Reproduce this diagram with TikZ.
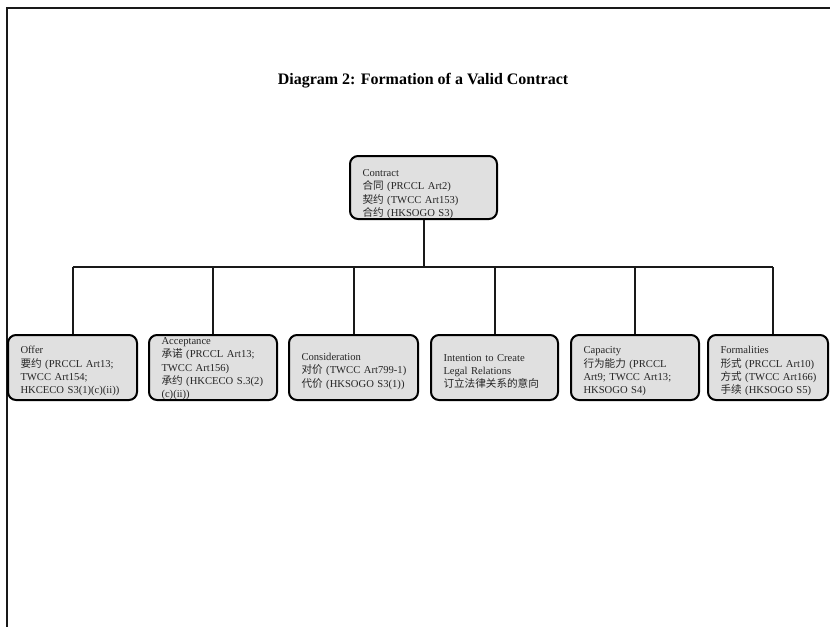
\documentclass[tikz,border=0pt]{standalone}
\usepackage{fontspec}
\setmainfont{Liberation Serif}
\newfontfamily\cjk{Noto Sans CJK SC}
\newcommand\zh[1]{{\cjk #1}}
\definecolor{boxgray}{RGB}{224,224,224}
\begin{document}
\begin{tikzpicture}[x=1pt,y=-1pt,
  box/.style={draw=black, line width=2pt, rounded corners=8pt, fill=boxgray,
    align=left, inner xsep=12.5pt, inner ysep=0pt, minimum height=65pt,
    text height=15pt,
    font=\fontsize{10.6}{13.3}\selectfont, text=black!85},
  conn/.style={line width=2pt, draw=black!90},
  frameline/.style={line width=1.5pt, draw=black!90},
  title/.style={font=\fontsize{16}{19}\bfseries\selectfont, anchor=base}]
\useasboundingbox (0,0) rectangle (830,627);
\draw[frameline] (830,8) -- (7,8) -- (7,627);
\node[title] (title) at (423,84) {Diagram 2: Formation of a Valid Contract};

\node[box, minimum width=147pt, minimum height=63pt, text width=122pt, text height=20pt] (contract) at (423.5,187.5)
  {Contract\\\zh{合同}~(PRCCL~Art2)\\\zh{契约}~(TWCC~Art153)\\\zh{合约}~(HKSOGO~S3)};

\node[box, minimum width=129pt, text width=104pt] (offer) at (72.5,367.5)
  {Offer\\\zh{要约}~(PRCCL~Art13;\\TWCC~Art154;\\HKCECO~S3(1)(c)(ii))};
\node[box, minimum width=128pt, text width=103pt, text height=7pt, text depth=53.2pt] (accept) at (213,367.5)
  {Acceptance\\\zh{承诺}~(PRCCL~Art13;\\TWCC~Art156)\\\zh{承约}~(HKCECO~S.3(2)\\(c)(ii))};
\node[box, minimum width=129pt, text width=104pt] (consid) at (353.5,367.5)
  {Consideration\\\mbox{\zh{对价}~(TWCC~Art799-1)}\\\zh{代价}~(HKSOGO~S3(1))};
\node[box, minimum width=127pt, text width=102pt] (intent) at (494.5,367.5)
  {Intention~to~Create\\Legal~Relations\\\zh{订立法律关系的意向}};
\node[box, minimum width=128pt, text width=103pt] (capac) at (635,367.5)
  {Capacity\\\zh{行为能力}~(PRCCL\\Art9;~TWCC~Art13;\\HKSOGO~S4)};
\node[box, minimum width=120pt, text width=95pt] (form) at (768,367.5)
  {Formalities\\\zh{形式}~(PRCCL~Art10)\\\zh{方式}~(TWCC~Art166)\\\zh{手续}~(HKSOGO~S5)};

\coordinate (bus) at (423.5,267);
\coordinate (formdrop) at ([xshift=5pt]form.north);
\draw[conn] (contract.south) -- (contract.south |- bus);
\draw[conn] (offer.north |- bus) -- (formdrop |- bus);
\foreach \c in {offer,accept,consid,intent,capac}
  \draw[conn] (\c.north) -- (\c.north |- bus);
\draw[conn] (formdrop) -- (formdrop |- bus);
\end{tikzpicture}
\end{document}
